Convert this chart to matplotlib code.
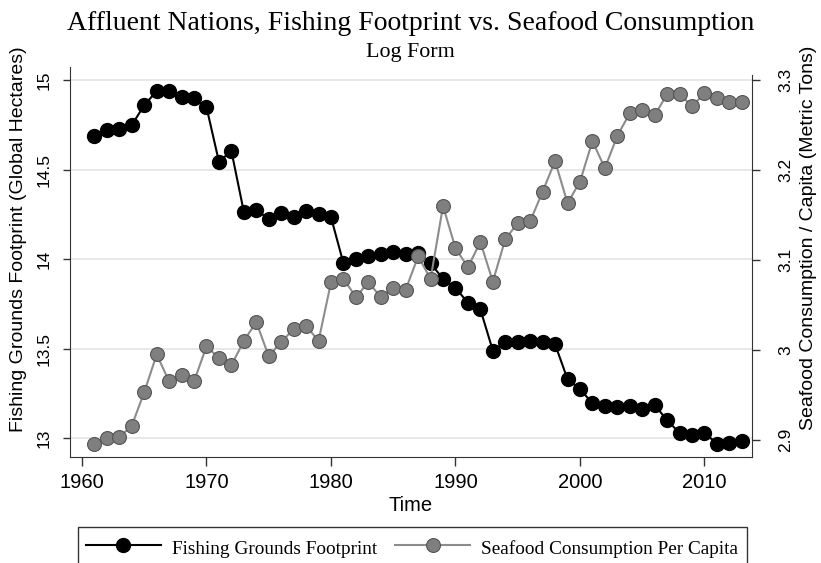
import numpy as np
import matplotlib
matplotlib.use("Agg")
import matplotlib.pyplot as plt
from matplotlib.lines import Line2D

years = np.arange(1961, 2014)

# log fishing grounds footprint (global hectares)
footprint = [
    14.69, 14.72, 14.73, 14.75, 14.86, 14.94, 14.94, 14.905, 14.90, 14.85,
    14.545, 14.605, 14.265, 14.275, 14.225, 14.26, 14.235, 14.27, 14.255, 14.235,
    13.978, 14.00, 14.018, 14.03, 14.04, 14.028, 14.033, 13.978, 13.89, 13.84,
    13.757, 13.72, 13.49, 13.535, 13.54, 13.545, 13.535, 13.525, 13.33, 13.275,
    13.195, 13.18, 13.177, 13.18, 13.165, 13.186, 13.10, 13.03, 13.02, 13.03,
    12.97, 12.975, 12.985,
]

# log seafood consumption per capita (metric tons)
seafood = [
    2.896, 2.902, 2.903, 2.916, 2.953, 2.995, 2.965, 2.972, 2.965, 3.004,
    2.991, 2.983, 3.010, 3.031, 2.993, 3.009, 3.023, 3.027, 3.010, 3.075,
    3.079, 3.059, 3.075, 3.059, 3.069, 3.067, 3.104, 3.079, 3.160, 3.113,
    3.092, 3.120, 3.076, 3.123, 3.141, 3.143, 3.176, 3.210, 3.163, 3.187,
    3.232, 3.202, 3.238, 3.263, 3.267, 3.261, 3.284, 3.284, 3.271, 3.285,
    3.280, 3.275, 3.276,
]

left_ticks = [13, 13.5, 14, 14.5, 15]
left_labels = ["13", "13.5", "14", "14.5", "15"]
right_ticks = [2.9, 3.0, 3.1, 3.2, 3.3]
right_labels = ["2.9", "3", "3.1", "3.2", "3.3"]
x_ticks = [1960, 1970, 1980, 1990, 2000, 2010]

sans = "Liberation Sans"
serif = "Liberation Serif"
gray_line = "#8c8c8c"
gray_face = "#7f7f7f"
axis_col = "#333333"

fig = plt.figure(figsize=(8.21, 5.63), dpi=100)
ax = fig.add_axes([0.0847, 0.1888, 0.8313, 0.6922])
ax2 = ax.twinx()

ax.set_xlim(1959.0, 2013.82)
ax.set_ylim(12.897, 15.074)
ax2.set_ylim(2.8814, 3.3144)

ax.set_yticks(left_ticks)
ax.set_yticklabels(left_labels, rotation=90, va="center", fontsize=12.5, family=sans)
ax2.set_yticks(right_ticks)
ax2.set_yticklabels(right_labels, rotation=90, va="center", fontsize=12.5, family=sans)
ax.set_xticks(x_ticks)
ax.set_xticklabels([str(t) for t in x_ticks], fontsize=14.5, family=sans)

ax.grid(axis="y", color="#e6e6e6", lw=1.3)
ax.set_axisbelow(True)

for a in (ax, ax2):
    a.spines["top"].set_visible(False)
ax.tick_params(axis="x", length=6.5, width=1, color=axis_col, pad=5)
ax.tick_params(axis="y", length=5, width=1, color=axis_col, pad=8)
ax2.tick_params(axis="y", length=6, width=1, color=axis_col, pad=13)
ax.spines["right"].set_visible(False)
ax2.spines["left"].set_visible(False)
ax2.spines["bottom"].set_visible(False)
ax2.spines["right"].set_bounds(2.8814, 3.3058)
for s in ("left", "bottom"):
    ax.spines[s].set_color(axis_col)
ax2.spines["right"].set_color(axis_col)

ax.plot(years, footprint, color="black", lw=1.5, marker="o", ms=10,
        mfc="black", mec="black", zorder=3)
ax2.plot(years, seafood, color=gray_line, lw=1.5, marker="o", ms=10,
         mfc=gray_face, mec="#555555", mew=0.8, zorder=3)

ax.set_xlabel("Time", fontsize=14.5, family=sans, labelpad=3)
ax.set_ylabel("Fishing Grounds Footprint (Global Hectares)", fontsize=14, family=sans)
ax2.set_ylabel("Seafood Consumption / Capita (Metric Tons)", fontsize=14,
               family=sans, rotation=90)
ax.yaxis.set_label_coords(-0.0755, 0.559)
ax2.yaxis.set_label_coords(1.082, 0.562)
ax.yaxis.label.set_va("center")
ax2.yaxis.label.set_va("center")

fig.text(0.5, 1 - 23 / 563, "Affluent Nations, Fishing Footprint vs. Seafood Consumption",
         ha="center", va="center", fontsize=20, family=serif)
fig.text(0.5, 1 - 53 / 563, "Log Form", ha="center", va="center",
         fontsize=15.8, family=serif)

handles = [
    Line2D([], [], color="black", lw=1.5, marker="o", ms=10, mfc="black", mec="black"),
    Line2D([], [], color=gray_line, lw=1.5, marker="o", ms=10, mfc=gray_face,
           mec="#555555", mew=0.8),
]
leg = fig.legend(handles, ["Fishing Grounds Footprint", "Seafood Consumption Per Capita"],
                 loc="upper left", bbox_to_anchor=(77.5 / 821, 1 - 526.7 / 563, 669.5 / 821, 0),
                 mode="expand", ncol=2, frameon=True, fancybox=False,
                 handlelength=3.85, handleheight=1.6, handletextpad=0.6,
                 borderpad=0.45, borderaxespad=0, columnspacing=1.0,
                 prop={"family": serif, "size": 13.9})
leg.get_frame().set_edgecolor("black")
leg.get_frame().set_linewidth(1.0)

fig.savefig("out.png", dpi=100)
